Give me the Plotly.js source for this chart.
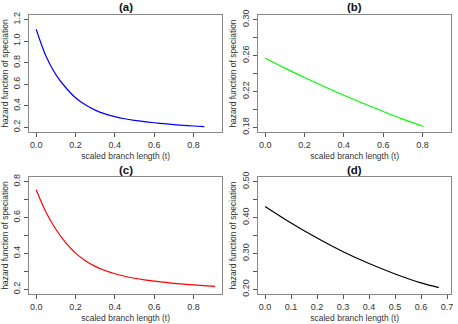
<!DOCTYPE html>
<html>
<head>
<meta charset="utf-8">
<script src="https://cdn.plot.ly/plotly-3.0.1.min.js"></script>
<style>html,body{margin:0;padding:0;background:#fff;}#chart{width:458px;height:324px;}</style>
</head>
<body>
<div id="chart"></div>
<script>
// Panel (a)
var tA = [0, 0.05, 0.10, 0.15, 0.20, 0.25, 0.30, 0.35, 0.40, 0.45, 0.50, 0.55, 0.60, 0.65, 0.70, 0.75, 0.80, 0.855];
var hA = [1.11, 0.86, 0.69, 0.57, 0.475, 0.41, 0.36, 0.325, 0.30, 0.28, 0.265, 0.253, 0.243, 0.234, 0.226, 0.219, 0.213, 0.207];
// Panel (b)
var tB = [0, 0.1, 0.2, 0.3, 0.4, 0.5, 0.6, 0.7, 0.805];
var hB = [0.257, 0.246, 0.2355, 0.2255, 0.2157, 0.2066, 0.1977, 0.1892, 0.181];
// Panel (c)
var tC = [0, 0.05, 0.10, 0.15, 0.20, 0.25, 0.30, 0.35, 0.40, 0.45, 0.50, 0.55, 0.60, 0.65, 0.70, 0.75, 0.80, 0.85, 0.91];
var hC = [0.755, 0.63, 0.535, 0.46, 0.402, 0.36, 0.328, 0.305, 0.287, 0.273, 0.262, 0.253, 0.246, 0.240, 0.234, 0.229, 0.225, 0.221, 0.217];
// Panel (d)
var tD = [0, 0.1, 0.2, 0.3, 0.4, 0.5, 0.6, 0.668];
var hD = [0.431, 0.385, 0.343, 0.305, 0.272, 0.243, 0.218, 0.205];

var panelTitles = ["(a)", "(b)", "(c)", "(d)"];
var xTitle = "scaled branch length (t)";
var yTitle = "hazard function of speciation";

var xTicksABC = [0, 0.2, 0.4, 0.6, 0.8];
var xTextABC = ["0.0", "0.2", "0.4", "0.6", "0.8"];
var xTicksD = [0, 0.1, 0.2, 0.3, 0.4, 0.5, 0.6, 0.7];
var xTextD = ["0.0", "0.1", "0.2", "0.3", "0.4", "0.5", "0.6", "0.7"];

var yTicksA = [0.2, 0.4, 0.6, 0.8, 1.0, 1.2];
var yTextA = ["0.2", "0.4", "0.6", "0.8", "1.0", "1.2"];
var yTicksB = [0.18, 0.20, 0.22, 0.24, 0.26, 0.28, 0.30];
var yTextB = ["0.18", "", "0.22", "", "0.26", "", "0.30"];
var yTicksC = [0.2, 0.3, 0.4, 0.5, 0.6, 0.7, 0.8];
var yTextC = ["0.2", "", "0.4", "", "0.6", "", "0.8"];
var yTicksD = [0.20, 0.25, 0.30, 0.35, 0.40, 0.45, 0.50];
var yTextD = ["0.20", "", "0.30", "", "0.40", "", "0.50"];

var colors = ["#0000ff", "#00ff00", "#ff0000", "#000000"];

var W = 458, H = 324;
var FONT = "Liberation Sans, Arial, sans-serif";
var TXT = "#333";

function xd(px0, px1) { return [px0 / W, px1 / W]; }
function yd(py0, py1) { return [1 - py1 / H, 1 - py0 / H]; }

var traces = [
  {x: tA, y: hA, xaxis: "x", yaxis: "y", line: {color: colors[0], width: 1.2, shape: "spline"}},
  {x: tB, y: hB, xaxis: "x2", yaxis: "y2", line: {color: colors[1], width: 1.2, shape: "spline"}},
  {x: tC, y: hC, xaxis: "x3", yaxis: "y3", line: {color: colors[2], width: 1.2, shape: "spline"}},
  {x: tD, y: hD, xaxis: "x4", yaxis: "y4", line: {color: colors[3], width: 1.2, shape: "spline"}}
].map(function (t) { t.type = "scatter"; t.mode = "lines"; t.showlegend = false; t.hoverinfo = "skip"; return t; });

function xax(dom, range, tv, tt, anchor) {
  return {
    domain: dom, range: range, anchor: anchor, tickmode: "array", tickvals: tv, ticktext: tt,
    showgrid: false, zeroline: false, showline: true, mirror: true, linecolor: "#888", linewidth: 1.3,
    ticks: "outside", ticklen: 4, tickcolor: "#555", tickwidth: 1,
    tickfont: {family: FONT, size: 9, color: TXT},
    title: {text: xTitle, font: {family: FONT, size: 8.5, color: TXT}, standoff: 4},
    automargin: false, fixedrange: true
  };
}
function yax(dom, range, tv, tt, anchor) {
  return {
    domain: dom, range: range, anchor: anchor, tickmode: "array", tickvals: tv, ticktext: tt,
    showgrid: false, zeroline: false, showline: true, mirror: true, linecolor: "#888", linewidth: 1.3,
    ticks: "outside", ticklen: 4, tickcolor: "#555", tickwidth: 1, tickangle: -90,
    tickfont: {family: FONT, size: 9, color: TXT},
    title: {text: yTitle, font: {family: FONT, size: 8.5, color: TXT}, standoff: 3},
    automargin: false, fixedrange: true
  };
}

var leftX = xd(29.3, 222), rightX = xd(258.3, 451);
var topY = yd(15.3, 131.7), botY = yd(177.3, 293.7);
var rABC = [-0.035, 0.945], rD = [-0.026, 0.715];

var layout = {
  width: W, height: H, margin: {l: 0, r: 0, t: 0, b: 0},
  paper_bgcolor: "#fff", plot_bgcolor: "#fff",
  xaxis: xax(leftX, rABC, xTicksABC, xTextABC, "y"),
  yaxis: yax(topY, [0.16, 1.24], yTicksA, yTextA, "x"),
  xaxis2: xax(rightX, rABC, xTicksABC, xTextABC, "y2"),
  yaxis2: yax(topY, [0.1752, 0.3048], yTicksB, yTextB, "x2"),
  xaxis3: xax(leftX, rABC, xTicksABC, xTextABC, "y3"),
  yaxis3: yax(botY, [0.176, 0.824], yTicksC, yTextC, "x3"),
  xaxis4: xax(rightX, rD, xTicksD, xTextD, "y4"),
  yaxis4: yax(botY, [0.188, 0.512], yTicksD, yTextD, "x4"),
  annotations: [
    {text: "<b>" + panelTitles[0] + "</b>", x: (29.3 + 222) / 2 / W, y: 1 - 7.5 / H},
    {text: "<b>" + panelTitles[1] + "</b>", x: (258.3 + 451) / 2 / W, y: 1 - 7.5 / H},
    {text: "<b>" + panelTitles[2] + "</b>", x: (29.3 + 222) / 2 / W, y: 1 - 169.5 / H},
    {text: "<b>" + panelTitles[3] + "</b>", x: (258.3 + 451) / 2 / W, y: 1 - 169.5 / H}
  ].map(function (a) {
    a.xref = "paper"; a.yref = "paper"; a.showarrow = false; a.xanchor = "center"; a.yanchor = "middle";
    a.font = {family: FONT, size: 11.5, color: "#111"}; return a;
  })
};

Plotly.newPlot("chart", traces, layout, {staticPlot: true, displayModeBar: false});
</script>
</body>
</html>
